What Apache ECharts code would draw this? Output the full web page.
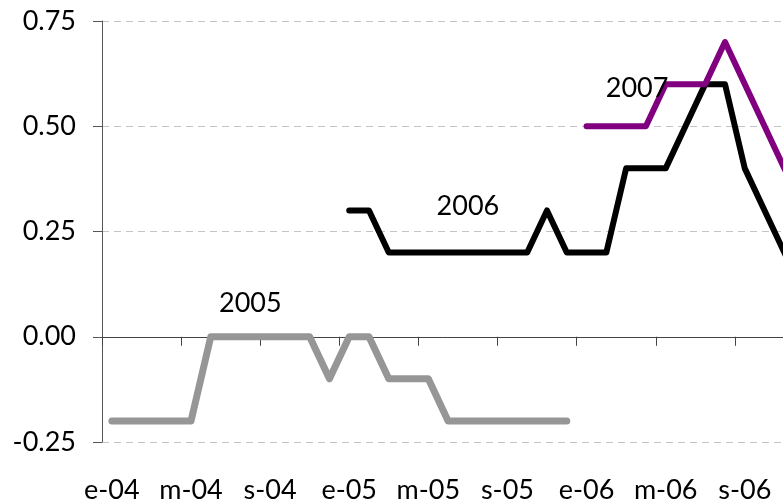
<!DOCTYPE html>
<html>
<head>
<meta charset="utf-8">
<script src="https://cdn.jsdelivr.net/npm/echarts@6/dist/echarts.min.js"></script>
<style>
  html, body { margin: 0; padding: 0; background: #fff; }
  #lineChart { width: 783px; height: 500px; }
</style>
</head>
<body>
<div id="lineChart"></div>
<script>
// meses e-04 .. d-06
const monthInitials = ["e", "f", "m", "a", "m", "j", "j", "a", "s", "o", "n", "d"];
const years = ["04", "05", "06"];
const months = [];
years.forEach((y) => monthInitials.forEach((m) => months.push(m + "-" + y)));

const yTicks = [-0.25, 0, 0.25, 0.5, 0.75];

// previsiones para 2005, 2006, 2007
const prev2005 = [
  -0.2, -0.2, -0.2, -0.2, -0.2, 0, 0, 0, 0, 0, 0, -0.1,
  0, 0, -0.1, -0.1, -0.1, -0.2, -0.2, -0.2, -0.2, -0.2, -0.2, -0.2,
  null, null, null, null, null, null, null, null, null, null, null, null
];
const prev2006 = [
  null, null, null, null, null, null, null, null, null, null, null, null,
  0.3, 0.3, 0.2, 0.2, 0.2, 0.2, 0.2, 0.2, 0.2, 0.2, 0.3, 0.2,
  0.2, 0.2, 0.4, 0.4, 0.4, 0.5, 0.6, 0.6, 0.4, 0.3, 0.2, 0.1
];
const prev2007 = [
  null, null, null, null, null, null, null, null, null, null, null, null,
  null, null, null, null, null, null, null, null, null, null, null, null,
  0.5, 0.5, 0.5, 0.5, 0.6, 0.6, 0.6, 0.7, 0.6, 0.5, 0.4, 0.3
];

// etiquetas de año: [índice mes, valor]
const yearLabels = [
  { name: "2005", coord: [7, 0.08] },
  { name: "2006", coord: [18, 0.31] },
  { name: "2007", coord: [26, 0.59] }
];

const FONT = "Lato";
const FONT_SIZE = 27;

let chart = echarts.init(document.getElementById("lineChart"));

function lineSeries(name, data, color, width, label, offsetX) {
  return {
    name: name,
    type: "line",
    xAxisIndex: 0,
    data: data,
    symbol: "none",
    connectNulls: false,
    animation: false,
    lineStyle: { color: color, width: width, cap: "round", join: "round" },
    markPoint: {
      symbol: "circle",
      symbolSize: 0,
      animation: false,
      label: {
        show: true,
        position: "inside",
        offset: [offsetX, 0],
        formatter: label.name,
        color: "#000",
        fontSize: FONT_SIZE,
        fontFamily: FONT
      },
      data: [{ coord: label.coord }]
    }
  };
}

let option = {
  backgroundColor: "#fff",
  grid: {
    left: 102,
    top: 21,
    bottom: 58,
    right: -31,
    containLabel: false,
    outerBoundsMode: "none"
  },
  xAxis: [
    {
      // etiquetas abajo
      type: "category",
      data: months,
      position: "bottom",
      boundaryGap: true,
      axisLine: { show: false, onZero: false },
      axisTick: { show: false },
      axisLabel: {
        interval: 3,
        margin: 48,
        verticalAlign: "middle",
        lineHeight: FONT_SIZE,
        color: "#000",
        fontSize: FONT_SIZE,
        fontFamily: FONT
      },
      splitLine: { show: false }
    },
    {
      // eje en el cero con marcas
      type: "category",
      data: months,
      position: "bottom",
      boundaryGap: true,
      axisLine: {
        show: true,
        onZero: true,
        lineStyle: { color: "#444", width: 1 }
      },
      axisTick: {
        show: true,
        interval: 3,
        length: 9,
        lineStyle: { color: "#444", width: 1 }
      },
      axisLabel: { show: false },
      splitLine: { show: false }
    }
  ],
  yAxis: {
    type: "value",
    min: yTicks[0],
    max: yTicks[yTicks.length - 1],
    interval: 0.25,
    axisLine: { show: true, lineStyle: { color: "#555", width: 1 } },
    axisTick: { show: true, length: 9, lineStyle: { color: "#555" } },
    axisLabel: {
      margin: 26,
      color: "#000",
      fontSize: FONT_SIZE,
      fontFamily: FONT,
      formatter: (v) => v.toFixed(2)
    },
    splitLine: {
      show: true,
      lineStyle: { color: "#c4c4c4", type: [7, 5], width: 1 }
    }
  },
  series: [
    lineSeries("2005", prev2005, "#969696", 7, yearLabels[0], 0),
    lineSeries("2006", prev2006, "#000000", 6, yearLabels[1], 0),
    lineSeries("2007", prev2007, "#800080", 6, yearLabels[2], 11)
  ]
};

chart.setOption(option);
</script>
</body>
</html>
